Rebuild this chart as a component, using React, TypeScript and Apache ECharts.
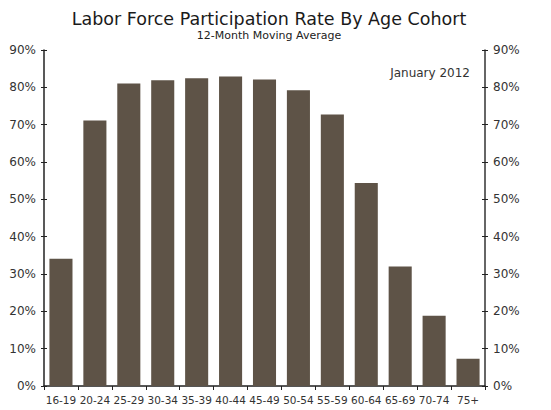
import React, { useEffect, useRef } from "react";
import * as echarts from "echarts";

const categories = ["16-19", "20-24", "25-29", "30-34", "35-39", "40-44", "45-49", "50-54", "55-59", "60-64", "65-69", "70-74", "75+"];
const participation = [34.1, 71.1, 81.0, 81.9, 82.4, 82.9, 82.1, 79.2, 72.7, 54.4, 32.0, 18.8, 7.3];
const titleText = "Labor Force Participation Rate By Age Cohort";
const subtitleText = "12-Month Moving Average";
const noteText = "January 2012";

const FONT = "'DejaVu Sans', Verdana, sans-serif";

export default function App() {
  const ref = useRef<HTMLDivElement>(null);
  useEffect(() => {
    if (!ref.current) return;
    const chart = echarts.init(ref.current, undefined, { renderer: "svg" });
    const yBase = {
      type: "value" as const,
      min: 0,
      max: 90,
      interval: 10,
      splitLine: { show: false },
    };
    chart.setOption({
      animation: false,
      backgroundColor: "#ffffff",
      textStyle: { fontFamily: FONT },
      title: [
        {
          text: titleText,
          left: 264,
          top: 5,
          textAlign: "center",
          textStyle: { fontFamily: FONT, fontSize: 17.5, fontWeight: "normal", color: "#1a1a1a" },
        },
        {
          text: subtitleText,
          left: 264,
          top: 25,
          textAlign: "center",
          textStyle: { fontFamily: FONT, fontSize: 11, fontWeight: "normal", color: "#222" },
        },
      ],
      grid: { left: 44, right: 66, top: 50, bottom: 24, containLabel: false },
      xAxis: [
        {
          type: "category",
          data: categories,
          position: "bottom",
          axisLine: { show: true, lineStyle: { color: "#222", width: 1.5 } },
          axisTick: { show: true, length: 4, lineStyle: { color: "#222" } },
          axisLabel: { interval: 0, fontFamily: FONT, fontSize: 10.5, color: "#333", margin: 8 },
        },
        {
          type: "category",
          data: categories,
          position: "top",
          axisLine: { show: true, lineStyle: { color: "#555", width: 1 } },
          axisTick: { show: false },
          axisLabel: { show: false },
        },
      ],
      yAxis: [
        {
          ...yBase,
          position: "left",
          axisLine: { show: true, lineStyle: { color: "#222", width: 1.5 } },
          axisTick: { show: true, length: 3, lineStyle: { color: "#222" } },
          axisLabel: { formatter: "{value}%", fontFamily: FONT, fontSize: 12, color: "#333", margin: 8 },
        },
        {
          ...yBase,
          position: "right",
          axisLine: { show: true, lineStyle: { color: "#333", width: 1.5 } },
          axisTick: { show: true, length: 3, lineStyle: { color: "#222" } },
          axisLabel: { formatter: "{value}%", fontFamily: FONT, fontSize: 12, color: "#333", margin: 8 },
        },
        {
          ...yBase,
          position: "left",
          axisLine: { show: false },
          axisTick: { show: true, inside: true, length: 3, lineStyle: { color: "#222" } },
          axisLabel: { show: false },
        },
        {
          ...yBase,
          position: "right",
          axisLine: { show: false },
          axisTick: { show: true, inside: true, length: 3, lineStyle: { color: "#222" } },
          axisLabel: { show: false },
        },
      ],
      graphic: [
        {
          type: "text",
          right: 81,
          top: 67,
          style: { text: noteText, font: `12px ${FONT}`, fill: "#333" },
        },
      ],
      series: [
        {
          type: "bar",
          data: participation,
          xAxisIndex: 0,
          yAxisIndex: 0,
          barCategoryGap: "32%",
          itemStyle: { color: "#5e5347" },
        },
      ],
    });
    return () => chart.dispose();
  }, []);
  return (
    <div
      ref={ref}
      style={{ position: "absolute", left: 0, top: 0, width: 551, height: 410 }}
    />
  );
}
